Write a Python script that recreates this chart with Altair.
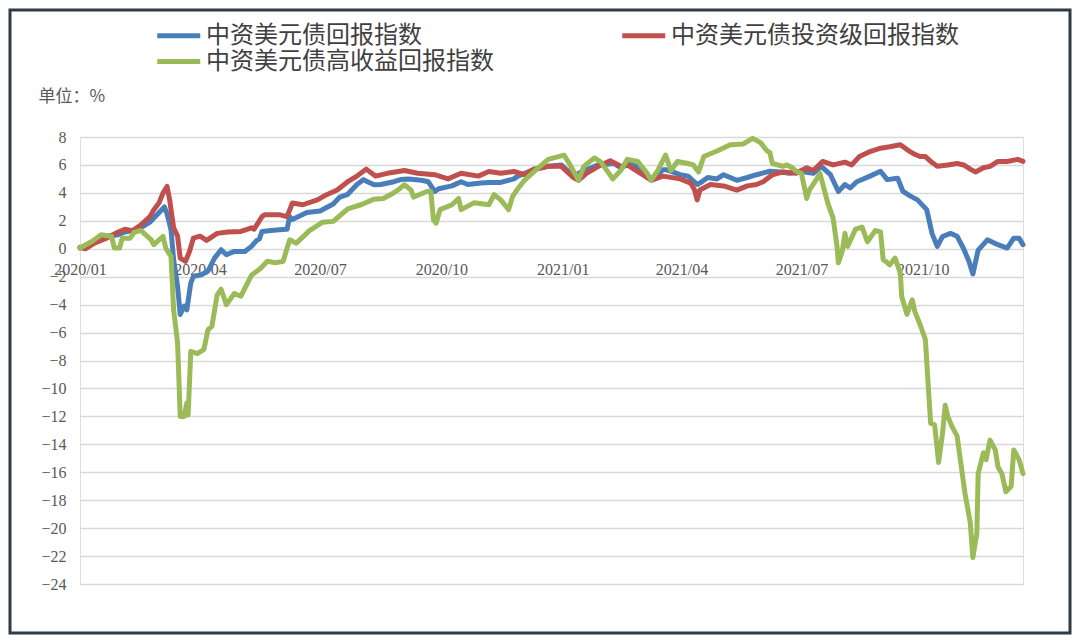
import altair as alt
import pandas as pd

SERIES = ["中资美元债回报指数", "中资美元债投资级回报指数", "中资美元债高收益回报指数"]
COLORS = ["#4A7EBB", "#C0504D", "#9BBB59"]
LEGEND_ORDER = [SERIES[0], SERIES[2], SERIES[1]]

blue_dates = [
    "2020-01-01", "2020-01-09", "2020-01-16", "2020-01-22", "2020-01-30", "2020-02-04", "2020-02-11",
    "2020-02-16", "2020-02-23", "2020-02-26", "2020-03-01", "2020-03-05", "2020-03-07", "2020-03-10",
    "2020-03-12", "2020-03-15", "2020-03-17", "2020-03-20", "2020-03-22", "2020-03-25", "2020-03-27",
    "2020-04-02", "2020-04-07", "2020-04-12", "2020-04-17", "2020-04-21", "2020-04-27", "2020-05-05",
    "2020-05-10", "2020-05-14", "2020-05-16", "2020-05-18", "2020-05-25", "2020-05-31", "2020-06-06",
    "2020-06-08", "2020-06-10", "2020-06-21", "2020-07-01", "2020-07-11", "2020-07-16", "2020-07-22",
    "2020-07-29", "2020-08-03", "2020-08-06", "2020-08-11", "2020-08-16", "2020-08-26", "2020-08-31",
    "2020-09-06", "2020-09-16", "2020-09-21", "2020-09-26", "2020-09-29", "2020-10-09", "2020-10-16",
    "2020-10-21", "2020-10-31", "2020-11-06", "2020-11-15", "2020-11-25", "2020-11-28", "2020-12-06",
    "2020-12-10", "2020-12-21", "2020-12-31", "2021-01-09", "2021-01-15", "2021-01-28", "2021-02-09",
    "2021-02-14", "2021-02-22", "2021-03-01", "2021-03-06", "2021-03-11", "2021-03-18", "2021-03-21",
    "2021-03-31", "2021-04-06", "2021-04-13", "2021-04-15", "2021-04-21", "2021-04-28", "2021-05-03",
    "2021-05-13", "2021-05-21", "2021-05-28", "2021-06-07", "2021-06-15", "2021-06-22", "2021-06-30",
    "2021-07-10", "2021-07-16", "2021-07-23", "2021-07-29", "2021-08-03", "2021-08-07", "2021-08-12",
    "2021-08-22", "2021-08-30", "2021-09-04", "2021-09-12", "2021-09-16", "2021-09-22", "2021-09-27",
    "2021-10-04", "2021-10-08", "2021-10-12", "2021-10-16", "2021-10-22", "2021-10-27", "2021-11-01",
    "2021-11-05", "2021-11-08", "2021-11-12", "2021-11-19", "2021-11-27", "2021-12-04", "2021-12-09",
    "2021-12-13", "2021-12-16",
]
blue_values = [
    0.05, 0.4, 0.7, 0.9, 1.0, 1.2, 1.3,
    1.5, 1.9, 2.2, 2.6, 3.0, 2.5, 1.35,
    -0.8, -2.7, -4.7, -4.1, -4.37, -2.45, -1.98,
    -1.86, -1.6, -0.67, -0.07, -0.43, -0.19, -0.19,
    0.17, 0.6, 0.7, 1.24, 1.3, 1.36, 1.4,
    2.3, 2.1, 2.6, 2.7, 3.2, 3.7, 3.9,
    4.6, 4.95, 4.8, 4.58, 4.6, 4.8, 4.95,
    5.0, 4.9, 4.8, 4.1, 4.3, 4.5, 4.8,
    4.6, 4.7, 4.75, 4.75, 5.0, 5.2, 5.5,
    5.65, 5.9, 6.0, 5.2, 5.5, 6.0, 6.1,
    5.8, 6.1, 5.7, 5.1, 5.1, 5.65, 5.65,
    5.3, 5.2, 4.6, 4.7, 5.1, 5.0, 5.3,
    4.9, 5.1, 5.3, 5.55, 5.5, 5.4, 5.55,
    5.4, 5.9, 5.3, 4.1, 4.6, 4.35, 4.8,
    5.2, 5.55, 4.95, 5.05, 4.1, 3.75, 3.5,
    2.8, 1.1, 0.17, 0.88, 1.1, 0.9, 0.0,
    -0.9, -1.8, -0.1, 0.64, 0.29, 0.05, 0.76,
    0.76, 0.29,
]

red_dates = [
    "2020-01-01", "2020-01-05", "2020-01-12", "2020-01-22", "2020-01-30", "2020-02-04", "2020-02-10",
    "2020-02-16", "2020-02-23", "2020-02-26", "2020-03-01", "2020-03-04", "2020-03-07", "2020-03-09",
    "2020-03-10", "2020-03-12", "2020-03-15", "2020-03-17", "2020-03-21", "2020-03-24", "2020-03-27",
    "2020-04-01", "2020-04-06", "2020-04-14", "2020-04-22", "2020-05-02", "2020-05-10", "2020-05-12",
    "2020-05-18", "2020-05-20", "2020-05-31", "2020-06-06", "2020-06-10", "2020-06-18", "2020-06-29",
    "2020-07-06", "2020-07-14", "2020-07-22", "2020-07-29", "2020-08-05", "2020-08-12", "2020-08-21",
    "2020-09-03", "2020-09-13", "2020-09-26", "2020-10-06", "2020-10-16", "2020-10-29", "2020-11-06",
    "2020-11-15", "2020-11-25", "2020-12-03", "2020-12-10", "2020-12-21", "2020-12-31", "2021-01-09",
    "2021-01-13", "2021-01-19", "2021-01-30", "2021-02-06", "2021-02-14", "2021-02-19", "2021-03-01",
    "2021-03-06", "2021-03-09", "2021-03-18", "2021-03-31", "2021-04-08", "2021-04-11", "2021-04-13",
    "2021-04-15", "2021-04-23", "2021-05-03", "2021-05-13", "2021-05-21", "2021-05-28", "2021-06-02",
    "2021-06-09", "2021-06-17", "2021-06-27", "2021-07-05", "2021-07-10", "2021-07-17", "2021-07-25",
    "2021-08-03", "2021-08-08", "2021-08-14", "2021-08-22", "2021-08-30", "2021-09-06", "2021-09-14",
    "2021-09-19", "2021-09-24", "2021-09-29", "2021-10-03", "2021-10-07", "2021-10-12", "2021-10-20",
    "2021-10-27", "2021-11-01", "2021-11-06", "2021-11-10", "2021-11-16", "2021-11-21", "2021-11-27",
    "2021-12-04", "2021-12-12", "2021-12-16",
]
red_values = [
    0.1, 0.0, 0.4, 0.8, 1.2, 1.4, 1.3,
    1.7, 2.3, 2.8, 3.3, 4.0, 4.46, 3.5,
    2.8, 1.5, 0.9, -0.67, -0.9, -0.2, 0.76,
    0.9, 0.6, 1.1, 1.2, 1.24, 1.5, 1.4,
    2.3, 2.44, 2.44, 2.3, 3.27, 3.15, 3.5,
    3.87, 4.2, 4.8, 5.2, 5.7, 5.2, 5.4,
    5.6, 5.4, 5.3, 5.0, 5.4, 5.2, 5.53,
    5.4, 5.53, 5.3, 5.7, 5.9, 5.9, 5.1,
    4.9, 5.4, 6.0, 6.3, 5.9, 6.0, 5.4,
    5.1, 4.9, 5.2, 5.0, 4.7, 4.2, 3.5,
    4.2, 4.6, 4.5, 4.2, 4.5, 4.6, 4.8,
    5.3, 5.5, 5.4, 5.8, 5.6, 6.25, 6.0,
    6.2, 6.0, 6.6, 6.96, 7.2, 7.3, 7.45,
    7.1, 6.8, 6.6, 6.6, 6.25, 5.9, 6.0,
    6.1, 6.0, 5.7, 5.5, 5.8, 5.9, 6.25,
    6.25, 6.4, 6.25,
]

green_dates = [
    "2020-01-01", "2020-01-10", "2020-01-17", "2020-01-25", "2020-01-27", "2020-01-31", "2020-02-02",
    "2020-02-08", "2020-02-11", "2020-02-16", "2020-02-24", "2020-02-26", "2020-03-04", "2020-03-06",
    "2020-03-10", "2020-03-12", "2020-03-15", "2020-03-17", "2020-03-20", "2020-03-22", "2020-03-23",
    "2020-03-25", "2020-03-30", "2020-04-04", "2020-04-07", "2020-04-10", "2020-04-14", "2020-04-17",
    "2020-04-21", "2020-04-27", "2020-05-02", "2020-05-10", "2020-05-17", "2020-05-22", "2020-05-28",
    "2020-06-03", "2020-06-08", "2020-06-13", "2020-06-23", "2020-07-03", "2020-07-11", "2020-07-14",
    "2020-07-22", "2020-08-01", "2020-08-11", "2020-08-18", "2020-08-24", "2020-08-29", "2020-09-03",
    "2020-09-08", "2020-09-10", "2020-09-20", "2020-09-23", "2020-09-25", "2020-09-27", "2020-09-30",
    "2020-10-09", "2020-10-14", "2020-10-16", "2020-10-26", "2020-11-06", "2020-11-10", "2020-11-15",
    "2020-11-21", "2020-11-24", "2020-11-28", "2020-12-03", "2020-12-10", "2020-12-21", "2021-01-02",
    "2021-01-06", "2021-01-13", "2021-01-17", "2021-01-25", "2021-01-30", "2021-02-08", "2021-02-14",
    "2021-02-19", "2021-02-27", "2021-03-06", "2021-03-09", "2021-03-14", "2021-03-20", "2021-03-24",
    "2021-03-29", "2021-04-06", "2021-04-10", "2021-04-14", "2021-04-18", "2021-04-28", "2021-05-08",
    "2021-05-18", "2021-05-25", "2021-05-31", "2021-06-05", "2021-06-07", "2021-06-09", "2021-06-17",
    "2021-06-20", "2021-06-24", "2021-06-27", "2021-07-01", "2021-07-05", "2021-07-07", "2021-07-13",
    "2021-07-15", "2021-07-17", "2021-07-21", "2021-07-25", "2021-07-28", "2021-07-29", "2021-08-01",
    "2021-08-03", "2021-08-05", "2021-08-11", "2021-08-16", "2021-08-20", "2021-08-26", "2021-08-30",
    "2021-09-01", "2021-09-03", "2021-09-06", "2021-09-10", "2021-09-14", "2021-09-15", "2021-09-19",
    "2021-09-23", "2021-09-25", "2021-09-29", "2021-10-03", "2021-10-05", "2021-10-07", "2021-10-10",
    "2021-10-13", "2021-10-16", "2021-10-18", "2021-10-20", "2021-10-23", "2021-10-27", "2021-11-02",
    "2021-11-06", "2021-11-08", "2021-11-11", "2021-11-12", "2021-11-16", "2021-11-18", "2021-11-21",
    "2021-11-25", "2021-11-27", "2021-11-30", "2021-12-03", "2021-12-07", "2021-12-09", "2021-12-13",
    "2021-12-16",
]
green_values = [
    0.05, 0.52, 1.0, 0.88, 0.05, 0.05, 0.76,
    0.76, 1.17, 1.31, 0.64, 0.29, 0.88, 0.05,
    -0.55, -4.37, -6.75, -12.0, -12.0, -11.05, -11.9,
    -7.35, -7.5, -7.2, -5.8, -5.56, -3.3, -2.9,
    -4.0, -3.2, -3.4, -1.9, -1.4, -0.9, -1.0,
    -0.9, 0.64, 0.4, 1.3, 1.9, 1.96, 2.2,
    2.85, 3.15, 3.55, 3.6, 3.9, 4.2, 4.58,
    4.2, 3.7, 4.1, 4.1, 2.07, 1.83, 2.8,
    3.15, 3.6, 2.8, 3.3, 3.15, 3.87, 3.5,
    2.8, 3.75, 4.3, 4.9, 5.5, 6.4, 6.7,
    6.1, 4.9, 5.9, 6.5, 6.2, 5.0, 5.6,
    6.4, 6.25, 5.4, 4.9, 5.6, 6.7, 5.6,
    6.25, 6.1, 6.0, 5.5, 6.6, 7.0, 7.45,
    7.5, 7.9, 7.6, 7.0, 6.9, 6.1, 5.9,
    6.0, 5.8, 5.55, 5.4, 3.6, 4.2, 5.05,
    5.4, 4.7, 3.27, 2.2, 0.17, -1.0, -0.17,
    1.1, 0.17, 1.4, 1.55, 0.5, 1.3, 1.2,
    -0.79, -0.9, -1.15, -0.67, -1.74, -3.4, -4.7,
    -3.65, -4.5, -5.44, -6.5, -9.6, -12.5, -12.6,
    -15.3, -13.2, -11.2, -12.0, -12.7, -13.4, -17.5,
    -19.6, -22.1, -20.4, -16.1, -14.6, -15.1, -13.7,
    -14.4, -15.6, -16.1, -17.4, -17.0, -14.4, -15.1,
    -16.1,
]

y_ticks = [-24, -22, -20, -18, -16, -14, -12, -10, -8, -6, -4, -2, 0, 2, 4, 6, 8]
x_ticks = ["2020-01-01", "2020-04-01", "2020-07-01", "2020-10-01",
           "2021-01-01", "2021-04-01", "2021-07-01", "2021-10-01"]

frames = []
for name, d, v in [(SERIES[0], blue_dates, blue_values),
                   (SERIES[1], red_dates, red_values),
                   (SERIES[2], green_dates, green_values)]:
    frames.append(pd.DataFrame({"date": pd.to_datetime(d), "value": v, "series": name}))
df = pd.concat(frames, ignore_index=True)

W, H = 943, 447
SERIF = "Liberation Serif"
CJK = "Noto Sans CJK SC"

tick_dt = []
for s in x_ticks:
    y_, m_, d_ = s.split("-")
    tick_dt.append(alt.DateTime(year=int(y_), month=int(m_), date=int(d_)))

lines = alt.Chart(df).mark_line(strokeWidth=5, strokeJoin="round", strokeCap="round").encode(
    x=alt.X("date:T",
            scale=alt.Scale(domain=[alt.DateTime(year=2020, month=1, date=1),
                                    alt.DateTime(year=2021, month=12, date=16)]),
            axis=alt.Axis(values=tick_dt, format="%Y/%m", title=None, grid=False,
                          domain=False, ticks=False, labelFont=SERIF, labelFontSize=16,
                          labelColor="#595959", labelPadding=12, offset=-335,
                          labelOverlap=False, labelFlush=False)),
    y=alt.Y("value:Q",
            scale=alt.Scale(domain=[-24, 8], nice=False, zero=False),
            axis=alt.Axis(values=y_ticks, format="d", title="单位：%", titleAngle=0,
                          titleX=-42, titleY=-41, titleAlign="left", titleBaseline="middle",
                          titleFont=CJK, titleFontSize=17, titleFontWeight="normal",
                          titleColor="#595959",
                          grid=True, gridColor="#D9D9D9", gridWidth=1.5,
                          domain=False, ticks=False, labelFont=SERIF, labelFontSize=16,
                          labelColor="#595959", labelPadding=14)),
    color=alt.Color("series:N",
                    scale=alt.Scale(domain=SERIES, range=COLORS),
                    legend=alt.Legend(title=None, orient="none", legendX=96, legendY=-115,
                                      values=LEGEND_ORDER,
                                      columns=2, columnPadding=118, rowPadding=-2,
                                      symbolType="M-3,0H1", symbolStrokeWidth=5,
                                      symbolSize=462, labelFont=CJK, labelFontSize=24,
                                      labelColor="#404040", labelOffset=3,
                                      labelLimit=0)),
    order=alt.Order("date:T"),
)

frame = alt.Chart(pd.DataFrame({"k": [0]})).mark_rect(
    fill=None, stroke="#2E3A46", strokeWidth=3
).encode(
    x=alt.value(-70), x2=alt.value(W + 47), y=alt.value(-127), y2=alt.value(H + 49)
)

chart = alt.layer(lines, frame).properties(
    width=W, height=H,
    autosize=alt.AutoSizeParams(type="none"),
    padding={"left": 72, "top": 129, "right": 49, "bottom": 51},
).configure_view(stroke=None, clip=False).configure(background="white")

chart.save("out.html", embed_options={"renderer": "svg", "actions": False})
